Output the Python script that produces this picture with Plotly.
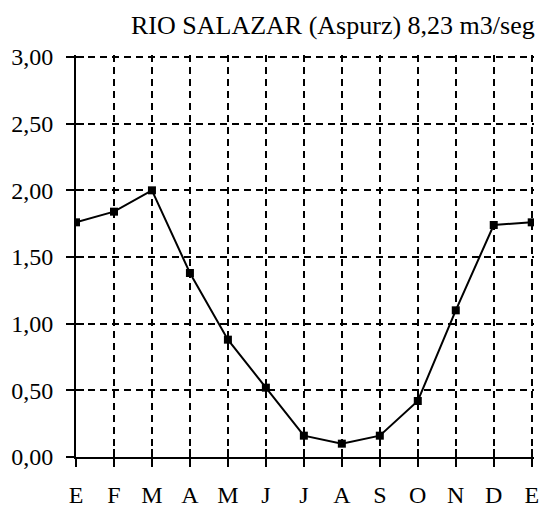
import plotly.graph_objects as go

months = ["E", "F", "M", "A", "M", "J", "J", "A", "S", "O", "N", "D", "E"]
caudal = [1.76, 1.84, 2.00, 1.38, 0.88, 0.52, 0.16, 0.10, 0.16, 0.42, 1.10, 1.74, 1.76]
y_ticks = [0, 0.5, 1.0, 1.5, 2.0, 2.5, 3.0]
title = "RIO SALAZAR (Aspurz) 8,23 m3/seg"

pos = list(range(len(months)))
FONT = "Liberation Serif, Times New Roman, serif"

# ranges go a hair past the last tick so plotly still draws the end gridlines
x_range = [0, 12.06]
y_range = [0, 3.015]

fig = go.Figure()

fig.add_trace(go.Scatter(
    x=pos,
    y=caudal,
    mode="lines+markers",
    line=dict(color="black", width=2),
    marker=dict(symbol="square", size=8, color="black"),
    showlegend=False,
    hoverinfo="skip",
))

# invisible trace so the overlay axes (inner half of the crossing ticks) get drawn
fig.add_trace(go.Scatter(
    x=[pos[0]], y=[y_ticks[0]], xaxis="x2", yaxis="y2",
    mode="markers", marker=dict(opacity=0), showlegend=False, hoverinfo="skip",
))

grid = dict(showgrid=True, gridcolor="black", gridwidth=2, griddash="7px,5px")

fig.update_layout(
    width=544,
    height=508,
    paper_bgcolor="white",
    plot_bgcolor="white",
    separators=",.",
    font=dict(family=FONT, size=24, color="black"),
    margin=dict(l=76, r=10, t=55, b=51),
    showlegend=False,
    xaxis=dict(
        range=x_range,
        tickmode="array",
        tickvals=pos,
        ticktext=months,
        ticks="outside",
        ticklen=8,
        tickwidth=2,
        tickcolor="black",
        ticklabelstandoff=7,
        showline=True,
        linecolor="black",
        linewidth=2,
        zeroline=False,
        automargin=False,
        **grid,
    ),
    yaxis=dict(
        range=y_range,
        tickmode="array",
        tickvals=y_ticks,
        tickformat=".2f",
        ticks="outside",
        ticklen=8,
        tickwidth=2,
        tickcolor="black",
        ticklabelstandoff=8,
        showline=True,
        linecolor="black",
        linewidth=2,
        zeroline=False,
        automargin=False,
        **grid,
    ),
    xaxis2=dict(
        range=x_range, overlaying="x", anchor="y", side="bottom",
        tickmode="array", tickvals=pos, ticks="inside", ticklen=8,
        tickwidth=2, tickcolor="black", showticklabels=False,
        showgrid=False, zeroline=False, showline=False, automargin=False,
    ),
    yaxis2=dict(
        range=y_range, overlaying="y", anchor="x", side="left",
        tickmode="array", tickvals=y_ticks, ticks="inside", ticklen=8,
        tickwidth=2, tickcolor="black", showticklabels=False,
        showgrid=False, zeroline=False, showline=False, automargin=False,
    ),
    annotations=[dict(
        text=title,
        xref="paper", yref="paper", x=1, y=1,
        xanchor="right", yanchor="middle",
        xshift=3, yshift=30,
        showarrow=False,
        font=dict(family=FONT, size=26, color="black"),
    )],
)

# drop the page's default 8px body margin so the figure sits at the window's corner
fig.write_html(
    "out.html",
    config={"staticPlot": True, "displayModeBar": False},
    post_script="document.body.style.margin='0';document.body.style.overflow='hidden';",
)
